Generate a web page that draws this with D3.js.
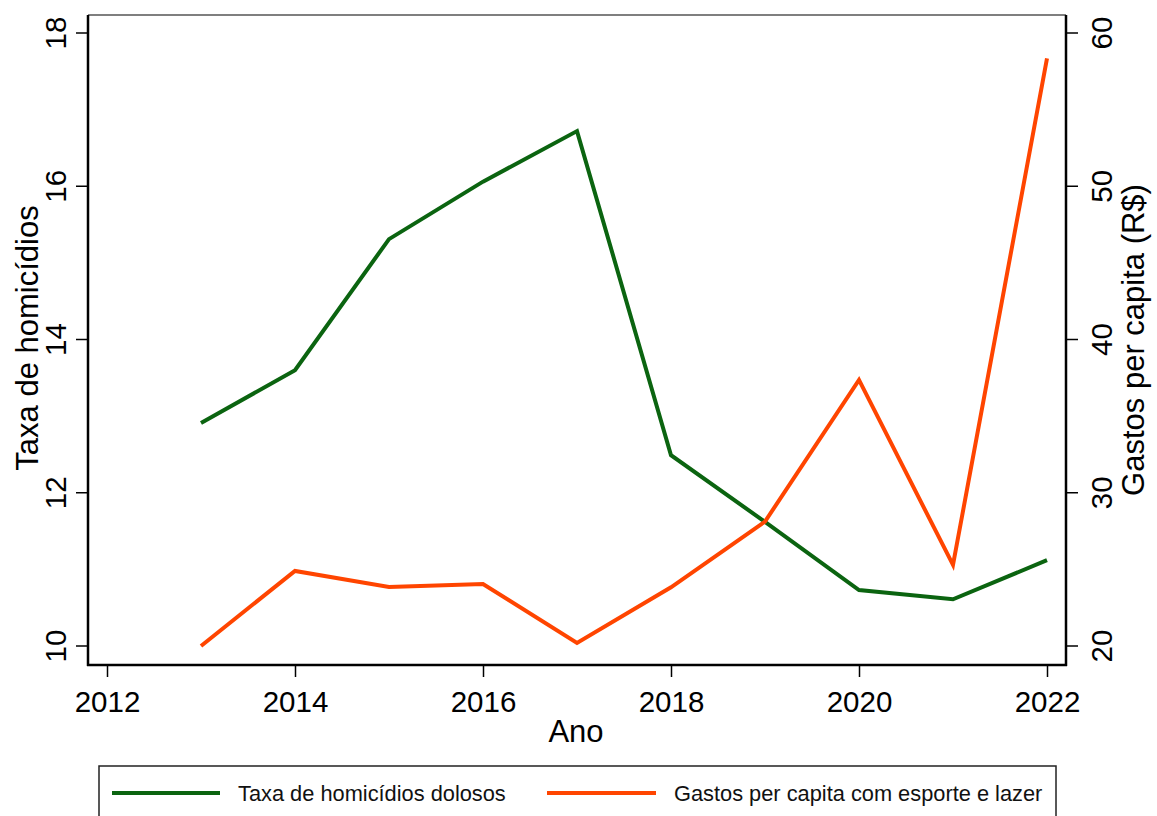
<!DOCTYPE html>
<html><head><meta charset="utf-8">
<script src="https://cdn.jsdelivr.net/npm/d3@7"></script>
<style>body{margin:0;background:#fff}svg{display:block;font-family:"Liberation Sans",Arial,sans-serif}</style>
</head><body><svg id="c" width="1157" height="816"></svg>
<script>
const years = [2013,2014,2015,2016,2017,2018,2019,2020,2021,2022];
const homicidios = [12.91,13.60,15.31,16.06,16.72,12.49,11.62,10.73,10.61,11.12];
const gastos = [20.0,24.9,23.85,24.05,20.2,23.83,28.12,37.36,25.29,58.35];
const xTicks = [2012,2014,2016,2018,2020,2022];
const leftTicks = [10,12,14,16,18];
const rightTicks = [20,30,40,50,60];
const seriesNames = ["Taxa de homicídios dolosos","Gastos per capita com esporte e lazer"];
const colors = ["#0b6410","#ff4500"];

const svg = d3.select("#c");
const L=88,R=1066,T=15,B=665;
const x = d3.scaleLinear().domain([2012,2022]).range([107,1047]);
const yL = d3.scaleLinear().domain([10,18]).range([646,33]);
const yR = d3.scaleLinear().domain([20,60]).range([646,33]);

// frame top
svg.append("line").attr("x1",L).attr("x2",R).attr("y1",T).attr("y2",T).attr("stroke","#555").attr("stroke-width",1.3);

const fs=29.5, tfs=31;
const axL = svg.append("g").attr("transform",`translate(${L},0)`).call(d3.axisLeft(yL).tickValues(leftTicks).tickSize(12).tickFormat(d3.format("d")));
const axR = svg.append("g").attr("transform",`translate(${R},0)`).call(d3.axisRight(yR).tickValues(rightTicks).tickSize(12).tickFormat(d3.format("d")));
const axB = svg.append("g").attr("transform",`translate(0,${B})`).call(d3.axisBottom(x).tickValues(xTicks).tickSize(12).tickFormat(d3.format("d")));
[axL,axR,axB].forEach(g=>{
  g.select(".domain").remove();
  g.selectAll(".tick line").attr("stroke","#000").attr("stroke-width",1.5);
  g.selectAll(".tick text").attr("font-size",fs).attr("fill","#000").attr("font-family","Liberation Sans, Arial, sans-serif");
});
axL.selectAll(".tick").attr("transform","translate(0,0)");
axL.selectAll(".tick line").attr("y1",d=>yL(d)).attr("y2",d=>yL(d));
axL.selectAll(".tick text").attr("x",null).attr("dy",null).attr("text-anchor","middle")
  .attr("transform",d=>`translate(-22,${yL(d)}) rotate(-90)`).attr("y",0);
axR.selectAll(".tick").attr("transform","translate(0,0)");
axR.selectAll(".tick line").attr("y1",d=>yR(d)).attr("y2",d=>yR(d));
axR.selectAll(".tick text").attr("x",null).attr("dy",null).attr("text-anchor","middle")
  .attr("transform",d=>`translate(46,${yR(d)}) rotate(-90)`).attr("y",0);
axB.selectAll(".tick text").attr("y",20).attr("dy","0.9em");

// axis lines
svg.append("line").attr("x1",L).attr("x2",L).attr("y1",T).attr("y2",B+1).attr("stroke","#000").attr("stroke-width",2.5);
svg.append("line").attr("x1",R).attr("x2",R).attr("y1",T).attr("y2",B+1).attr("stroke","#000").attr("stroke-width",2.5);
svg.append("line").attr("x1",L-1).attr("x2",R+1).attr("y1",B).attr("y2",B).attr("stroke","#000").attr("stroke-width",2.5);

// lines
const lineL = d3.line().x((d,i)=>x(years[i])).y(d=>yL(d));
const lineR = d3.line().x((d,i)=>x(years[i])).y(d=>yR(d));
svg.append("path").datum(homicidios).attr("d",lineL).attr("fill","none").attr("stroke",colors[0]).attr("stroke-width",4).attr("stroke-linejoin","miter");
svg.append("path").datum(gastos).attr("d",lineR).attr("fill","none").attr("stroke",colors[1]).attr("stroke-width",4).attr("stroke-linejoin","miter");

// titles
svg.append("text").attr("x",576).attr("y",742).attr("text-anchor","middle").attr("font-size",tfs).text("Ano");
svg.append("text").attr("transform",`translate(38,338) rotate(-90)`).attr("text-anchor","middle").attr("font-size",tfs).text("Taxa de homicídios");
svg.append("text").attr("transform",`translate(1144,340) rotate(-90)`).attr("text-anchor","middle").attr("font-size",tfs).text("Gastos per capita (R$)");

// legend
svg.append("rect").attr("x",99).attr("y",766).attr("width",957).attr("height",80).attr("fill","#fff").attr("stroke","#222").attr("stroke-width",1.5);
const leg = [{x1:112,x2:220,tx:238},{x1:547,x2:656,tx:674}];
leg.forEach((l,i)=>{
  svg.append("line").attr("x1",l.x1).attr("x2",l.x2).attr("y1",793).attr("y2",793).attr("stroke",colors[i]).attr("stroke-width",4);
  svg.append("text").attr("x",l.tx).attr("y",801).attr("font-size",21.8).attr("fill","#111").text(seriesNames[i]);
});
</script></body></html>
